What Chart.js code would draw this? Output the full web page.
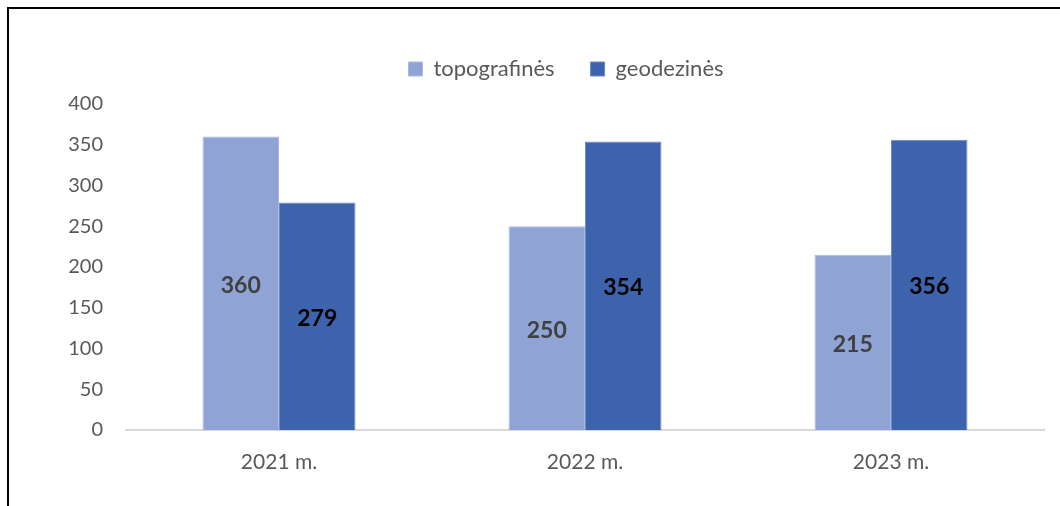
<!DOCTYPE html>
<html>
<head>
<meta charset="utf-8">
<script src="https://cdn.jsdelivr.net/npm/chart.js@4"></script>
<style>
    html, body { margin: 0; padding: 0; background: #fff; }
    #wrap { position: relative; width: 1060px; height: 506px; overflow: hidden; }
    #frame { position: absolute; left: 7px; top: 7px; right: 0; bottom: -10px; border-left: 2px solid #000; border-top: 2px solid #000; pointer-events: none; }
    canvas { position: absolute; left: 0; top: 0; }
</style>
</head>
<body>
<div id="wrap">
    <canvas id="chart" width="1060" height="506"></canvas>
    <div id="frame"></div>
</div>
<script>
const categories = ['2021 m.', '2022 m.', '2023 m.'];
const topografines = [360, 250, 215];
const geodezines = [279, 354, 356];
const yTicks = [0, 50, 100, 150, 200, 250, 300, 350, 400];

const FONT = 'Lato, "Open Sans", sans-serif';

// value labels in the middle of each bar
const barLabels = {
    id: 'barLabels',
    afterDatasetsDraw(chart) {
        const ctx = chart.ctx;
        ctx.save();
        ctx.font = `bold 23px ${FONT}`;
        ctx.textAlign = 'center';
        ctx.textBaseline = 'middle';
        chart.data.datasets.forEach((ds, i) => {
            const meta = chart.getDatasetMeta(i);
            meta.data.forEach((bar, j) => {
                ctx.fillStyle = ds.labelColor;
                ctx.fillText(ds.data[j], bar.x, (bar.y + bar.base) / 2 + 2);
            });
        });
        ctx.restore();
    }
};

// legend box height + horizontal shift to match the original placement
const legendPlace = {
    id: 'legendPlace',
    beforeInit(chart) {
        const fit = chart.legend.fit;
        chart.legend.fit = function () {
            fit.call(this);
            this.height = 82;
        };
    },
    afterLayout(chart) {
        chart.legend.left += 44;
        chart.legend.right += 44;
    }
};

Chart.defaults.font.family = FONT;
Chart.defaults.color = '#595959';

new Chart(document.getElementById('chart').getContext('2d'), {
    type: 'bar',
    data: {
        labels: categories,
        datasets: [
            {
                label: 'topografinės',
                data: topografines,
                backgroundColor: '#8FA3D4',
                borderColor: '#A9B9E0',
                borderWidth: 1,
                labelColor: '#404040'
            },
            {
                label: 'geodezinės',
                data: geodezines,
                backgroundColor: '#3C63AC',
                borderColor: '#6B89C8',
                borderWidth: 1,
                labelColor: '#000000'
            }
        ]
    },
    options: {
        responsive: false,
        animation: false,
        layout: { padding: { left: 0, right: 16, top: 22, bottom: 0 } },
        categoryPercentage: 0.5,
        barPercentage: 1,
        plugins: {
            legend: {
                position: 'top',
                labels: {
                    font: { size: 22 },
                    color: '#595959',
                    boxWidth: 14,
                    boxHeight: 14,
                    padding: 36,
                    useBorderRadius: false
                }
            },
            tooltip: { enabled: false }
        },
        scales: {
            x: {
                grid: { display: false, drawTicks: false },
                border: { color: '#D9D9D9', width: 2 },
                ticks: { font: { size: 21 }, color: '#595959', padding: 20 },
                afterFit: s => { s.height = 76; }
            },
            y: {
                min: 0,
                max: 400,
                afterBuildTicks: s => { s.ticks = yTicks.map(v => ({ value: v })); },
                grid: { display: false, drawTicks: false },
                border: { display: false },
                ticks: { font: { size: 20 }, color: '#595959', padding: 23 },
                afterFit: s => { s.width = 126; }
            }
        }
    },
    plugins: [barLabels, legendPlace]
});
</script>
</body>
</html>
